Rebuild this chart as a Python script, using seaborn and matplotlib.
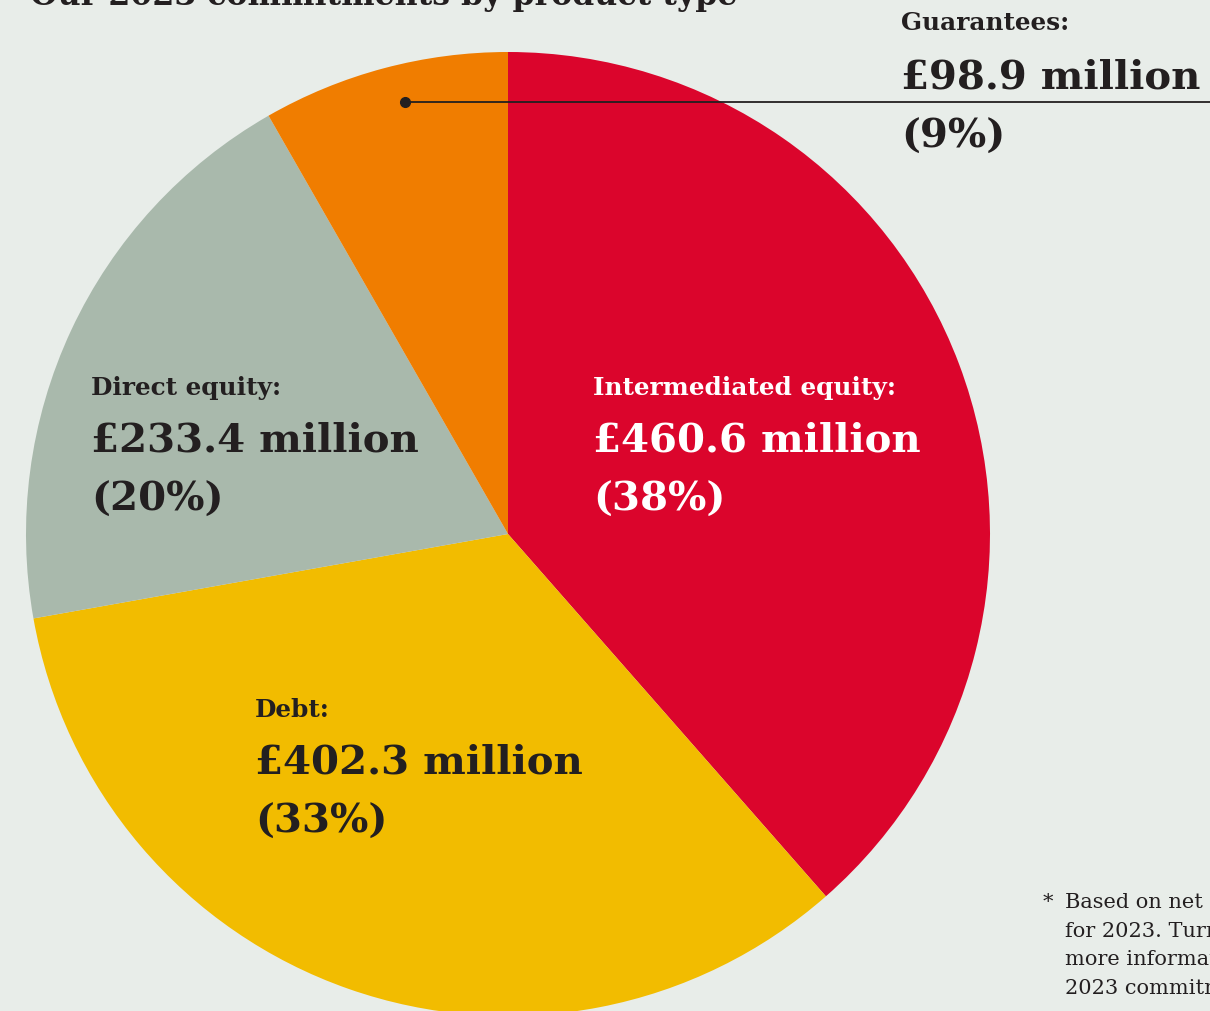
import matplotlib
matplotlib.use("Agg")
import matplotlib.pyplot as plt
import seaborn as sns

# Product-type commitments, £ million
categories = ["Intermediated equity", "Debt", "Direct equity", "Guarantees"]
values = [460.6, 402.3, 233.4, 98.9]
shares = [38, 33, 20, 9]
colors = ["#DB052C", "#F2BC00", "#A9B9AC", "#F07D00"]

title = "Our 2023 commitments by product type"
footnote = ["Based on net commitments signed",
            "for 2023. Turn to page 26 for",
            "more information about our",
            "2023 commitments."]

sns.set_style("white")
bg = "#E8EDE9"
ink = "#231F20"
serif = ["DejaVu Serif"]

W, H = 1210, 1012
fig = plt.figure(figsize=(W / 100, H / 100), dpi=100, facecolor=bg)
ax = fig.add_axes([0, 0, 1, 1])
ax.set_facecolor(bg)

def py(y):
    return H - y

cx, cy, r = 508, py(535), 482
wedges, _ = ax.pie(values, colors=colors, startangle=90, counterclock=False,
                   center=(cx, cy), radius=r, frame=True,
                   wedgeprops=dict(linewidth=0))
ax.set_xlim(0, W)
ax.set_ylim(0, H)
ax.set_aspect("equal")
ax.axis("off")

def label(x, y0, name, val, pct, color, gap=(52, 60)):
    ax.text(x, py(y0), name + ":", fontsize=17.8, fontweight="bold", family=serif,
            color=color, va="center", ha="left")
    ax.text(x, py(y0 + gap[0]), f"£{val} million", fontsize=29, fontweight="bold",
            family=serif, color=color, va="center", ha="left")
    ax.text(x, py(y0 + gap[0] + gap[1]), f"({pct}%)", fontsize=29, fontweight="bold",
            family=serif, color=color, va="center", ha="left")

label(593, 388, categories[0], values[0], shares[0], "white")
label(255, 710, categories[1], values[1], shares[1], ink)
label(91, 388, categories[2], values[2], shares[2], ink)
label(901, 23, categories[3], values[3], shares[3], ink, gap=(54, 60))

# Leader line for the small slice
ax.plot([405, W], [py(103), py(103)], color=ink, lw=1.3, clip_on=False)
ax.plot([405], [py(103)], "o", color=ink, ms=7)

ax.text(30, py(5), title, fontsize=22.8, fontweight="bold", family=serif,
        color=ink, va="baseline", ha="left")

ax.text(1043, py(903), "*", fontsize=15, family=serif, color=ink, va="center")
for i, line in enumerate(footnote):
    ax.text(1065, py(903 + 28.5 * i), line, fontsize=15, family=serif,
            color=ink, va="center", ha="left")

fig.savefig("out.png", dpi=100, facecolor=bg)
